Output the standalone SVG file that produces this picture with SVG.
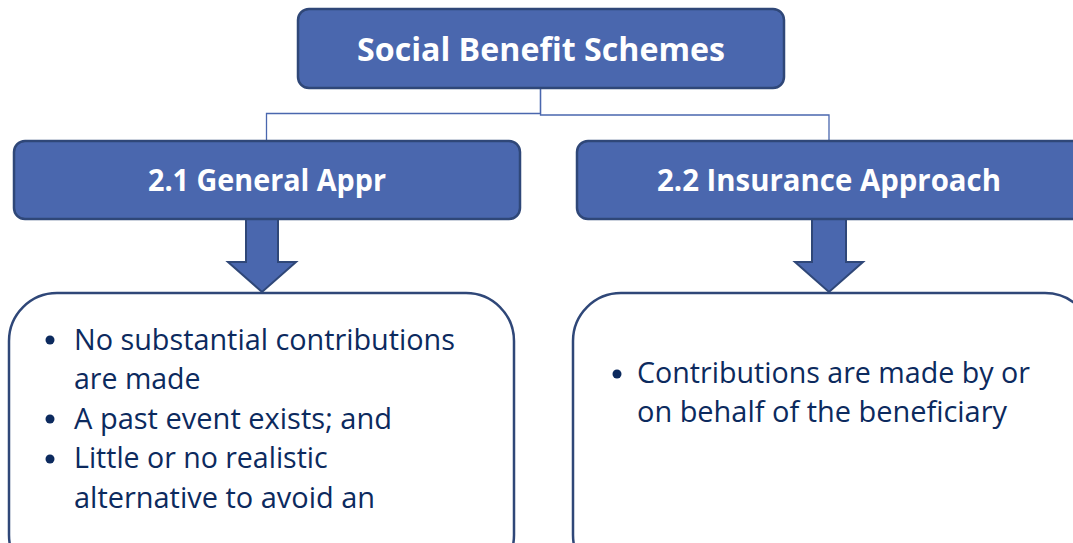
<svg xmlns="http://www.w3.org/2000/svg" width="1073" height="543" viewBox="0 0 1073 543">
<style>
.hdr{fill:#4a67ae;stroke:#2f4778;stroke-width:2.5}
.ht{fill:#ffffff;font-family:"Open Sans","Liberation Sans",sans-serif;font-weight:bold;text-anchor:middle}
.body{fill:#ffffff;stroke:#2f4778;stroke-width:2.5}
.bt{fill:#0c2a5e;font-family:"Open Sans","Liberation Sans",sans-serif;font-size:28.5px}
.conn{fill:none;stroke:#4a67ae;stroke-width:1.3}
.arr{fill:#4a67ae;stroke:#2f4778;stroke-width:2}
</style>
<rect width="1073" height="543" fill="#ffffff"/>
<g id="connectors">
<path class="conn" d="M540.5,88 V113.5 H266.5 V141"/>
<path class="conn" d="M540.5,88 V115 H829 V141"/>
<polygon class="arr" points="246,219 278,219 278,262 296,262 262,292 228,262 246,262"/>
<polygon class="arr" points="812,219 846,219 846,262 863,262 829,292 795,262 812,262"/>
</g>
<g id="root">
<rect class="hdr" x="298" y="9" width="486" height="79" rx="11"/>
<text class="ht" x="541" y="61" font-size="31.5" textLength="368" lengthAdjust="spacingAndGlyphs">Social Benefit Schemes</text>
</g>
<g id="general">
<rect class="hdr" x="14" y="141" width="506" height="78" rx="11"/>
<text class="ht" x="267" y="191" font-size="29.5" textLength="238" lengthAdjust="spacingAndGlyphs">2.1 General Appr</text>
</g>
<g id="insurance">
<rect class="hdr" x="577" y="141" width="510" height="78" rx="11"/>
<text class="ht" x="829" y="191" font-size="29.5" textLength="344" lengthAdjust="spacingAndGlyphs">2.2 Insurance Approach</text>
</g>
<g id="general-body">
<rect class="body" x="9" y="293" width="505" height="290" rx="48"/>
<circle cx="50" cy="340" r="4.5" fill="#0c2a5e"/>
<circle cx="50" cy="419" r="4.5" fill="#0c2a5e"/>
<circle cx="50" cy="459" r="4.5" fill="#0c2a5e"/>
<text class="bt" x="74" y="350" textLength="381" lengthAdjust="spacingAndGlyphs">No substantial contributions</text>
<text class="bt" x="74" y="389">are made</text>
<text class="bt" x="74" y="429" textLength="318" lengthAdjust="spacingAndGlyphs">A past event exists; and</text>
<text class="bt" x="74" y="468">Little or no realistic</text>
<text class="bt" x="74" y="508" textLength="301" lengthAdjust="spacingAndGlyphs">alternative to avoid an</text>
</g>
<g id="insurance-body">
<rect class="body" x="573" y="293" width="520" height="290" rx="48"/>
<circle cx="617" cy="374" r="4.5" fill="#0c2a5e"/>
<text class="bt" x="637" y="383" textLength="393" lengthAdjust="spacingAndGlyphs">Contributions are made by or</text>
<text class="bt" x="637" y="422" textLength="370" lengthAdjust="spacingAndGlyphs">on behalf of the beneficiary</text>
</g>
</svg>
